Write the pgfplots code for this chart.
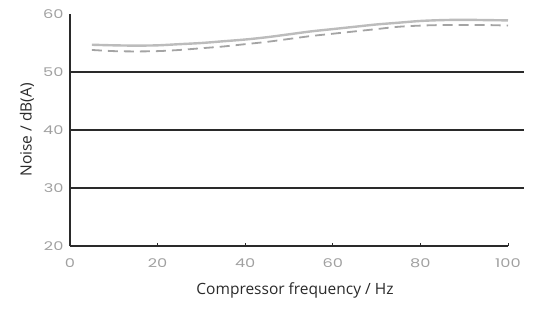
\documentclass[border=0pt]{standalone}
\usepackage{fontspec}
\setmainfont{Open Sans}
\newfontfamily\tickfont{Poppins}
\usepackage{graphicx}
\usepackage{pgfplots}
\pgfplotsset{compat=1.18}
\definecolor{gridc}{HTML}{2A2A2A}
\definecolor{tickc}{HTML}{A0A0A0}
\definecolor{upperc}{HTML}{BCBCBC}
\definecolor{lowerc}{HTML}{A4A4A4}
\begin{document}
\begin{tikzpicture}
\begin{axis}[
  at={(0,0)}, anchor=south west,
  scale only axis, width=438pt, height=232pt,
  xmin=0, xmax=100, ymin=20, ymax=60,
  clip=false,
  axis lines*=left,
  y axis line style={gridc, line width=1.6pt, -},
  x axis line style={gridc, line width=1.4pt, -},
  /pgf/number format/assume math mode=true,
  xtick={0,20,40,60,80,100},
  ytick={20,30,40,50,60},
  xtick align=inside,
  major tick length=3pt,
  xtick style={gridc, line width=1pt},
  ytick style={draw=none},
  xticklabel={\tickfont\scalebox{1.35}[1]{\pgfmathprintnumber{\tick}}},
  yticklabel={\tickfont\scalebox{1.35}[1]{\pgfmathprintnumber{\tick}}},
  every tick label/.append style={color=tickc, font=\fontsize{12}{12}\selectfont},
  xticklabel style={yshift=-9pt},
  yticklabel style={xshift=-3pt},
  xlabel={Compressor frequency / Hz},
  ylabel={Noise / dB(A)},
  label style={color=gridc, font=\fontsize{15.5}{16}\selectfont},
  xlabel style={yshift=-8pt, xshift=6pt},
  ylabel style={yshift=2pt},
]
% horizontal grid lines
\addplot[gridc, line width=1.5pt] coordinates {(0,30)(103.7,30)};
\addplot[gridc, line width=1.5pt] coordinates {(0,40)(103.7,40)};
\addplot[gridc, line width=1.5pt] coordinates {(0,50)(103.7,50)};
% upper solid curve
\addplot[upperc, line width=2.4pt, smooth] coordinates {
(5,54.7)(10,54.6)(15,54.55)(20,54.6)(25,54.8)(30,55.0)(35,55.3)(40,55.6)(45,56.0)(50,56.5)(55,57.0)(60,57.4)(65,57.8)(70,58.2)(75,58.5)(80,58.8)(85,58.95)(90,59.0)(95,58.95)(100,58.9)};
% lower dashed curve
\addplot[lowerc, line width=1.8pt, smooth, dash pattern=on 10pt off 6pt] coordinates {
(5,53.8)(10,53.6)(15,53.55)(20,53.6)(25,53.8)(30,54.1)(35,54.4)(40,54.8)(45,55.2)(50,55.7)(55,56.2)(60,56.6)(65,57.0)(70,57.4)(75,57.8)(80,58.0)(85,58.1)(90,58.1)(95,58.1)(100,58.0)};
\end{axis}
\path[use as bounding box] (-70pt,-71pt) rectangle (469pt,246pt);
\end{tikzpicture}
\end{document}
